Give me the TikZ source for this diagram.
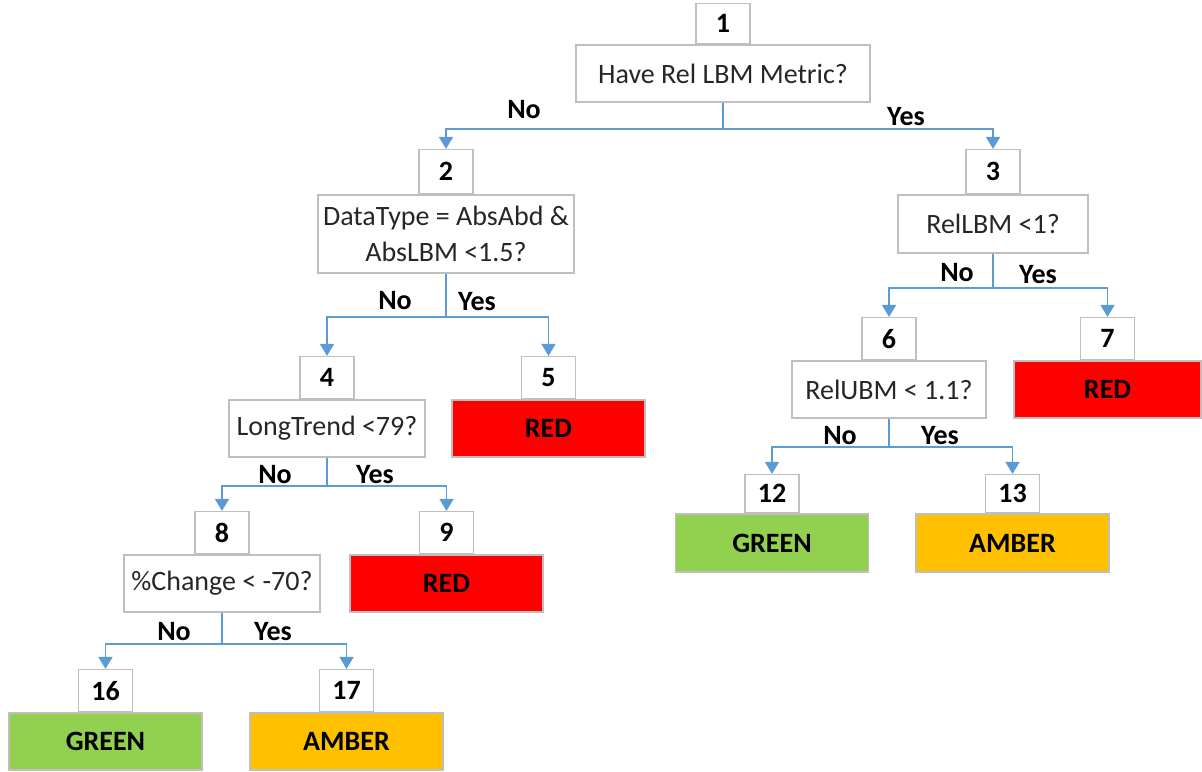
\documentclass[tikz,border=0pt]{standalone}
\usepackage{fontspec}
\setmainfont{Carlito}
\usetikzlibrary{positioning,arrows.meta}
\definecolor{linkblue}{RGB}{91,155,213}
\definecolor{boxgray}{RGB}{191,191,191}
\definecolor{redout}{RGB}{255,0,0}
\definecolor{greenout}{RGB}{146,208,80}
\definecolor{amberout}{RGB}{255,192,0}
\newcommand{\chartfont}{\fontsize{14}{18}\selectfont}

\tikzset{
  numbox/.style={draw=boxgray, line width=0.7pt, fill=white, minimum width=27pt,
    minimum height=21pt, inner sep=0pt, font=\chartfont\bfseries},
  qbox/.style={draw=boxgray, line width=0.7pt, minimum height=28.5pt, inner sep=2pt,
    align=center, text=black!85, font=\chartfont},
  outbox/.style={draw=boxgray, line width=0.7pt, minimum width=96.5pt,
    minimum height=28.5pt, font=\chartfont\bfseries},
  link/.style={draw=linkblue, line width=0.8pt, -{Triangle[width=7pt,length=6pt]}},
  lbl/.style={font=\chartfont\bfseries, inner sep=0pt}
}

\begin{document}
\begin{tikzpicture}[x=0.5pt, y=-0.5pt]
  \useasboundingbox (0,0) rectangle (1202,771);

  % questions and outcomes
  \node[qbox, minimum width=147pt] (q1) at (723,73.5) {Have Rel LBM Metric?};
  \node[qbox, minimum width=128pt, minimum height=39pt] (q2) at (446,234)
    {DataType = AbsAbd \&\\ AbsLBM <1.5?};
  \node[qbox, minimum width=95pt, minimum height=29pt] (q3) at (993,224) {RelLBM <1?};
  \node[qbox, minimum width=98pt] (q4) at (327,428.5) {LongTrend <79?};
  \node[outbox, fill=redout] (r5) at (548.5,428.5) {RED};
  \node[qbox, minimum width=97pt] (q6) at (889,389.5) {RelUBM < 1.1?};
  \node[outbox, fill=redout, minimum width=93.5pt] (r7) at (1107.5,389.5) {RED};
  \node[qbox, minimum width=98pt] (q8) at (222,583.5) {\%Change < -70?};
  \node[outbox, fill=redout] (r9) at (446.5,583.5) {RED};
  \node[outbox, fill=greenout, minimum height=29pt] (g12) at (772,543) {GREEN};
  \node[outbox, fill=amberout, minimum height=29pt] (a13) at (1012.5,543) {AMBER};
  \node[outbox, fill=greenout] (g16) at (105.5,741.5) {GREEN};
  \node[outbox, fill=amberout] (a17) at (346.5,741.5) {AMBER};

  % numbers
  \node[numbox, above=0pt of q1, minimum height=20pt] (n1) {1};
  \node[numbox, above=0pt of q2, minimum height=22pt] (n2) {2};
  \node[numbox, above=0pt of q3, minimum height=22pt] (n3) {3};
  \node[numbox, above=0pt of q4] (n4) {4};
  \node[numbox, above=0pt of r5] (n5) {5};
  \node[numbox, above=0pt of q6] (n6) {6};
  \node[numbox, above=0pt of r7] (n7) {7};
  \node[numbox, above=0pt of q8] (n8) {8};
  \node[numbox, above=0pt of r9] (n9) {9};
  \node[numbox, above=0pt of g12, minimum height=19pt] (n12) {12};
  \node[numbox, above=0pt of a13, minimum height=19pt] (n13) {13};
  \node[numbox, above=0pt of g16] (n16) {16};
  \node[numbox, above=0pt of a17] (n17) {17};

  % branches
  \draw[link] (q1.south) -- ++(0,26) -| (n2.north);
  \draw[link] (q1.south) -- ++(0,26) -| (n3.north);
  \draw[link] (q2.south) -- ++(0,43) -| (n4.north);
  \draw[link] (q2.south) -- ++(0,43) -| (n5.north);
  \draw[link] (q3.south) -- ++(0,34) -| (n6.north);
  \draw[link] (q3.south) -- ++(0,34) -| (n7.north);
  \draw[link] (q4.south) -- ++(0,28) -| (n8.north);
  \draw[link] (q4.south) -- ++(0,28) -| (n9.north);
  \draw[link] (q6.south) -- ++(0,28) -| (n12.north);
  \draw[link] (q6.south) -- ++(0,28) -| (n13.north);
  \draw[link] (q8.south) -- ++(0,31) -| (n16.north);
  \draw[link] (q8.south) -- ++(0,31) -| (n17.north);

  \node[lbl] (no1) at (524,110) {No};
  \node[lbl] (yes1) at (906,117) {Yes};
  \node[lbl] (no2) at (395,301) {No};
  \node[lbl] (yes2) at (477,302) {Yes};
  \node[lbl] (no3) at (957,273) {No};
  \node[lbl] (yes3) at (1038,275) {Yes};
  \node[lbl] (no4) at (275,475) {No};
  \node[lbl] (yes4) at (375,475) {Yes};
  \node[lbl] (no6) at (840,436) {No};
  \node[lbl] (yes6) at (940,436) {Yes};
  \node[lbl] (no8) at (174,632) {No};
  \node[lbl] (yes8) at (273,632) {Yes};
\end{tikzpicture}
\end{document}
